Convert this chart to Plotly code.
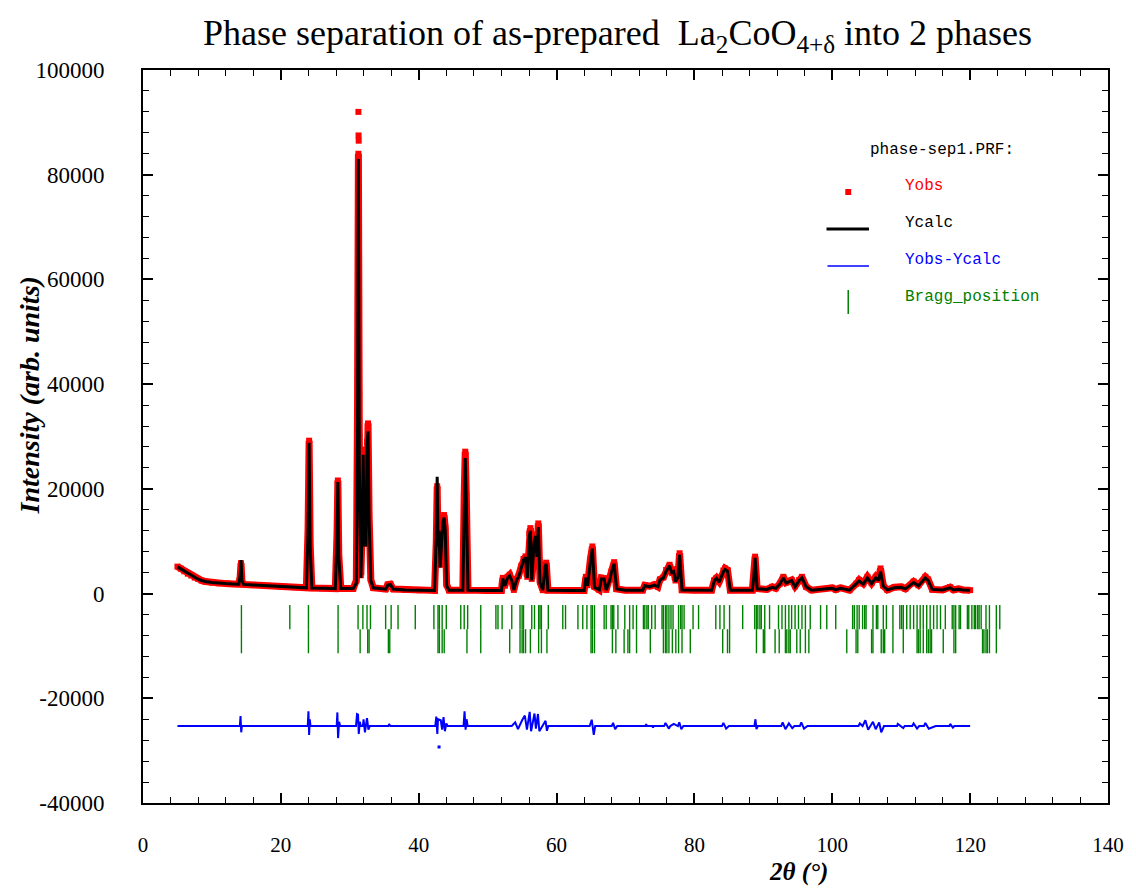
import plotly.graph_objects as go

# ---------------- data ----------------
two_theta = [5.0, 5.5, 6.0, 6.5, 7.0, 7.5, 8.0, 8.5, 9.0, 10.0, 11.0, 12.0, 13.0, 13.9, 14.1, 14.22, 14.35, 14.6,
             16.0, 18.0, 20.0, 22.0, 23.7, 23.95, 24.1, 24.25, 24.5, 26.0, 27.9, 28.15, 28.27, 28.4, 28.7, 30.5,
             30.95, 31.12, 31.25, 31.38, 31.6, 31.8, 31.95, 32.08, 32.2, 32.35, 32.5, 32.65, 32.8, 33.05, 33.4,
             35.2, 35.5, 35.9, 36.3, 38.0, 40.0, 42.3, 42.55, 42.68, 42.8, 42.95, 43.1, 43.3, 43.5, 43.68, 43.85,
             44.05, 44.4, 46.4, 46.6, 46.75, 46.9, 47.15, 50.0, 52.0, 52.2, 52.5, 52.9, 53.2, 53.5, 53.8, 54.2,
             54.5, 54.9, 55.2, 55.5, 55.75, 56.05, 56.2, 56.4, 56.75, 56.95, 57.15, 57.35, 57.6, 58.0, 58.35, 58.5,
             58.75, 62.0, 64.0, 64.25, 64.5, 64.9, 65.2, 65.5, 66.2, 66.5, 66.9, 67.2, 67.7, 67.95, 68.35, 68.7,
             70.0, 72.5, 72.8, 73.5, 74.2, 74.7, 75.0, 75.5, 75.9, 76.4, 76.7, 77.0, 77.25, 77.6, 77.85, 78.2,
             80.0, 82.5, 82.9, 83.2, 83.6, 84.2, 84.45, 84.8, 85.2, 88.4, 88.6, 88.8, 89.1, 90.5, 91.3, 91.8,
             92.4, 92.9, 93.3, 93.6, 94.1, 94.6, 95.2, 95.6, 96.2, 97.0, 100.0, 100.5, 101.2, 102.5, 103.5, 103.9,
             104.5, 105.1, 105.7, 106.3, 106.7, 107.0, 107.4, 108.0, 109.0, 110.0, 110.6, 111.8, 112.5, 113.5,
             113.9, 114.5, 116.0, 117.1, 117.6, 118.3, 119.0, 120.0]

y_calc = [5100, 4700, 4200, 3800, 3400, 3050, 2750, 2500, 2300, 2100, 1950, 1900, 1850, 1800, 3500, 6400, 2500, 1750,
          1650, 1500, 1350, 1200, 1100, 12000, 28800, 9000, 1050, 1000, 950, 11000, 21300, 7000, 950, 950,
          2000, 30000, 83000, 25000, 3000, 12000, 26500, 9000, 16000, 9000, 28000, 31000, 14000, 2500, 1100,
          850, 1600, 1700, 850, 700, 650, 600, 11000, 22300, 9000, 12000, 5000, 9000, 13500, 14500, 12000,
          1500, 650, 650, 18000, 25900, 18000, 650, 600, 600, 2900, 1500, 3000, 3400, 2500, 700, 2600,
          3200, 5000, 6400, 6900, 3000, 11000, 12000, 2500, 10000, 11000, 7000, 12700, 2000, 650, 5200, 5700,
          650, 600, 600, 3100, 1500, 6000, 8600, 1200, 700, 2800, 2800, 700, 2500, 4000, 5700, 900,
          650, 650, 1500, 1300, 1600, 1300, 2600, 3000, 4300, 5300, 4000, 4200, 2300, 3000, 7400, 700,
          650, 650, 2500, 2900, 2200, 4200, 4600, 4300, 650, 650, 3000, 6800, 900, 800, 1200, 1000,
          1800, 3000, 2000, 2200, 2500, 1300, 2500, 3000, 1300, 650, 1000, 750, 1000, 650, 1800, 2400,
          1800, 3000, 1900, 3000, 2500, 4200, 1400, 700, 1100, 1200, 900, 2100, 1500, 3000,
          2500, 800, 700, 1100, 700, 800, 700, 650]

y_obs = [5150, 4750, 4250, 3800, 3450, 3050, 2800, 2500, 2300, 2100, 1950, 1900, 1850, 1800, 3300, 5800, 2400, 1750,
         1650, 1500, 1350, 1200, 1100, 12500, 29200, 9500, 1050, 1000, 950, 11500, 21600, 7500, 950, 950,
         2500, 35000, 84000, 30000, 3500, 12000, 27500, 10000, 17000, 9500, 29000, 32500, 15000, 2700, 1100,
         850, 1700, 1800, 850, 700, 650, 600, 10000, 20500, 9500, 12500, 5500, 9500, 14000, 15000, 12500,
         1700, 650, 650, 19000, 27100, 19000, 650, 600, 600, 3000, 1500, 3200, 3600, 2600, 700, 2800,
         3400, 5300, 6600, 7100, 3200, 11500, 12500, 2800, 10500, 11300, 7300, 13400, 2200, 650, 5500, 5900,
         650, 600, 600, 3200, 1600, 6500, 9000, 1300, 700, 3000, 2900, 700, 2600, 4200, 6000, 900,
         650, 650, 1600, 1400, 1700, 1300, 2700, 3100, 4500, 5500, 4200, 4400, 2500, 3200, 7700, 700,
         650, 650, 2600, 3000, 2300, 4400, 4800, 4500, 650, 650, 3200, 7050, 950, 800, 1300, 1000,
         1900, 3200, 2100, 2300, 2600, 1400, 2600, 3200, 1300, 650, 1100, 750, 1100, 650, 1900, 2600,
         1900, 3200, 2000, 3200, 2600, 4800, 1500, 700, 1200, 1300, 900, 2300, 1600, 3200,
         2700, 800, 700, 1200, 700, 900, 700, 650]

# individual observed points on the flanks of the strongest reflection (drawn as separate dots)
obs_extra_x = [31.16, 31.19, 31.21, 31.23, 31.25, 31.27, 31.29, 31.31, 31.33, 31.36]
obs_extra_y = [30000, 45000, 62000, 81000, 92000, 87500, 86500, 68000, 52000, 38000]

diff_x = [5.0, 14.05, 14.15, 14.25, 14.35, 23.9, 24.0, 24.1, 24.2, 24.3, 28.1, 28.2, 28.3, 28.45, 28.6,
          30.9, 31.05, 31.2, 31.3, 31.45, 31.6, 31.9, 32.0, 32.2, 32.5, 32.7, 32.9, 35.6, 35.7, 35.9,
          42.4, 42.55, 42.7, 42.8, 43.2, 43.4, 43.6, 43.8, 44.0, 44.2, 46.5, 46.65, 46.8, 46.95, 47.1,
          53.5, 54.0, 54.4, 55.0, 55.4, 55.7, 56.1, 56.3, 56.8, 57.0, 57.3, 57.5, 58.0, 58.4, 58.6, 58.8,
          64.8, 65.1, 65.4, 65.6, 68.0, 68.2, 68.5, 68.8, 72.9, 73.0, 73.1, 73.9, 74.0, 74.1,
          75.6, 75.8, 76.3, 76.5, 77.0, 77.6, 77.8, 78.1, 78.4, 84.0, 84.2, 84.6, 85.0,
          88.7, 88.85, 89.0, 89.2, 92.6, 92.8, 93.2, 93.7, 94.2, 94.5, 95.3, 95.5, 95.9, 96.4,
          103.8, 104.0, 104.4, 104.8, 105.2, 105.9, 106.3, 106.8, 107.1, 107.5,
          109.4, 109.5, 110.3, 110.5, 111.6, 111.8, 112.3, 112.6, 113.3, 113.5, 114.0, 115.0,
          117.0, 117.1, 117.5, 117.7, 120.0]
diff_y = [-25300, -25300, -23400, -26500, -25300, -25300, -22500, -27000, -24000, -25300, -25300, -22700,
          -27600, -24500, -25300, -25300, -23000, -23100, -26800, -24500, -25300, -25300, -24000, -26500,
          -23800, -26000, -25300, -25300, -24900, -25300,
          -25300, -23500, -26800, -24000, -24200, -26000, -23600, -26300, -24800, -25300, -25300, -22500,
          -26000, -24000, -25300,
          -25300, -24600, -25900, -24200, -23300, -26000, -22600, -26300, -22900, -25800, -23000, -26300,
          -25300, -24300, -26200, -25300,
          -25300, -24100, -27000, -25300, -25300, -24700, -25900, -25300, -25300, -24900, -25300, -25300,
          -25600, -25300,
          -25300, -24700, -25800, -25300, -24900, -25300, -24600, -25900, -25300, -25300, -24700, -25800, -25300,
          -25300, -24000, -25900, -25300, -25300, -24600, -25900, -24800, -25700, -25300, -25300, -24600,
          -25800, -25300,
          -25300, -24800, -25300, -24200, -26000, -24500, -25900, -24600, -26500, -25300,
          -25300, -24900, -25700, -25300, -25300, -24800, -25800, -25300, -25300, -24700, -25800, -25300,
          -25300, -24900, -25600, -25300, -25300]
diff_outlier_x = [42.95]
diff_outlier_y = [-29300]

bragg_phase1 = [14.28, 21.3, 24.0, 28.3, 31.2, 31.9, 32.5, 33.0, 35.2, 36.0, 37.0, 39.5, 42.2, 42.8, 43.0, 43.4,
                44.0, 46.1, 46.6, 47.1, 49.0, 51.2, 51.5, 52.1, 53.5, 54.7, 55.0, 55.2, 56.4, 56.8, 57.4, 57.6,
                57.8, 58.8, 60.9, 61.3, 63.1, 63.8, 64.4, 65.0, 65.2, 65.5, 66.9, 67.2, 67.9, 68.1, 68.3, 68.9,
                69.9, 70.6, 71.1, 71.6, 72.6, 72.8, 73.1, 73.3, 73.8, 74.3, 75.3, 75.5, 75.8, 76.0, 76.3, 76.6,
                76.9, 77.7, 78.0, 78.2, 78.5, 79.8, 80.6, 83.1, 83.7, 84.3, 85.1, 87.0, 88.75, 89.0, 89.2, 89.5,
                89.7, 90.2, 90.9, 92.2, 92.7, 93.2, 93.7, 94.1, 94.6, 95.1, 95.6, 96.1, 96.8, 98.3, 99.2, 100.5,
                102.95, 103.2, 103.6, 103.9, 104.4, 104.7, 104.9, 105.9, 106.4, 106.6, 107.4, 107.85, 108.8,
                109.8, 110.06, 110.3, 110.8, 111.3, 111.8, 112.3, 112.75, 113.2, 113.7, 114.2, 114.7, 115.2,
                115.7, 116.4, 117.4, 117.65, 117.9, 118.4, 118.6, 119.6, 119.8, 120.25, 120.6, 120.8, 121.1,
                121.3, 121.6, 122.3, 122.8, 123.8, 124.3]
bragg_phase2 = [14.28, 24.0, 28.3, 31.5, 32.6, 32.8, 35.6, 35.8, 42.8, 43.0, 43.4, 43.7, 47.0, 49.0, 53.2, 54.7,
                55.0, 55.2, 55.5, 56.2, 57.4, 57.8, 58.6, 65.0, 65.2, 65.5, 68.1, 68.6, 69.8, 70.35, 70.6, 71.6,
                73.6, 75.5, 75.8, 76.0, 76.3, 76.8, 77.3, 77.7, 78.2, 79.4, 84.1, 84.8, 85.1, 89.0, 90.0, 90.2,
                91.7, 92.3, 93.2, 93.4, 93.7, 93.9, 94.85, 95.35, 96.1, 96.6, 102.1, 103.45, 103.7, 105.7,
                105.9, 107.1, 107.4, 107.6, 108.8, 110.3, 112.3, 112.5, 112.75, 113.2, 113.7, 113.95, 114.2,
                114.4, 116.1, 117.65, 117.9, 121.8, 122.0, 122.3, 122.5, 122.8, 123.8]

x_ticks = [0, 20, 40, 60, 80, 100, 120, 140]
y_ticks = [-40000, -20000, 0, 20000, 40000, 60000, 80000, 100000]

# ---------------- figure ----------------
GREEN = "#008000"
ROW1 = (-2200, -6800)
ROW2 = (-6800, -11400)


def tick_segments(positions, span):
    xs, ys = [], []
    for p in positions:
        xs += [p, p, None]
        ys += [span[0], span[1], None]
    return xs, ys


fig = go.Figure()

# observed (red)
fig.add_trace(go.Scatter(x=two_theta, y=y_obs, mode="lines+markers",
                         line=dict(color="#ff0000", width=7),
                         marker=dict(color="#ff0000", size=6, symbol="square"),
                         showlegend=False, hoverinfo="skip"))
fig.add_trace(go.Scatter(x=obs_extra_x, y=obs_extra_y, mode="markers",
                         marker=dict(color="#ff0000", size=6, symbol="square"),
                         showlegend=False, hoverinfo="skip"))
# calculated (black)
fig.add_trace(go.Scatter(x=two_theta, y=y_calc, mode="lines",
                         line=dict(color="#000000", width=3),
                         showlegend=False, hoverinfo="skip"))
# difference (blue)
fig.add_trace(go.Scatter(x=diff_x, y=diff_y, mode="lines",
                         line=dict(color="#0000ff", width=2),
                         showlegend=False, hoverinfo="skip"))
fig.add_trace(go.Scatter(x=diff_outlier_x, y=diff_outlier_y, mode="markers",
                         marker=dict(color="#0000ff", size=3, symbol="square"),
                         showlegend=False, hoverinfo="skip"))
# Bragg positions
bx1, by1 = tick_segments(bragg_phase1, ROW1)
bx2, by2 = tick_segments(bragg_phase2, ROW2)
fig.add_trace(go.Scatter(x=bx1, y=by1, mode="lines", line=dict(color=GREEN, width=1.4),
                         showlegend=False, hoverinfo="skip", connectgaps=False))
fig.add_trace(go.Scatter(x=bx2, y=by2, mode="lines", line=dict(color=GREEN, width=1.4),
                         showlegend=False, hoverinfo="skip", connectgaps=False))

axis_common = dict(
    showline=True, linecolor="black", linewidth=2, mirror="allticks",
    ticks="inside", ticklen=10, tickwidth=2, tickcolor="black",
    showgrid=False, zeroline=False,
)

fig.update_xaxes(range=[0, 140], tickmode="array", tickvals=x_ticks, ticktext=[str(v) for v in x_ticks],
                 ticklabelstandoff=22,
                 tickfont=dict(family="Liberation Serif", size=21, color="black"),
                 minor=dict(dtick=4, tick0=0, ticks="inside", ticklen=6, tickwidth=1, tickcolor="black"),
                 **axis_common)
fig.update_yaxes(range=[-40000, 100000], tickmode="array", tickvals=y_ticks, ticktext=[str(v) for v in y_ticks],
                 ticklabelstandoff=32,
                 tickfont=dict(family="Liberation Serif", size=23, color="black"),
                 minor=dict(dtick=4000, tick0=0, ticks="inside", ticklen=6, tickwidth=1, tickcolor="black"),
                 **axis_common)

L, R, T, B = 143, 1120, 70, 803
W, H = R - L, B - T


def px(xp):
    return (xp - L) / W


def py(yp):
    return (B - yp) / H


mono = dict(family="Liberation Mono", size=16)
annotations = [
    dict(text="Phase separation of as-prepared&nbsp;&nbsp;La<sub>2</sub>CoO<sub>4+δ</sub> into 2 phases",
         xref="paper", yref="paper", x=px(623), y=py(35), xanchor="center", yanchor="middle",
         showarrow=False, font=dict(family="Liberation Serif", size=36, color="black")),
    dict(text="<b><i>Intensity (arb. units)</i></b>", textangle=-90,
         xref="paper", yref="paper", x=px(28), y=py(395), xanchor="center", yanchor="middle",
         showarrow=False, font=dict(family="Liberation Serif", size=28, color="black")),
    dict(text="<b><i>2θ (°)</i></b>",
         xref="paper", yref="paper", x=px(807), y=py(872), xanchor="center", yanchor="middle",
         showarrow=False, font=dict(family="Liberation Serif", size=25, color="black")),
    dict(text="phase-sep1.PRF:", xref="paper", yref="paper", x=px(877), y=py(150),
         xanchor="left", yanchor="middle", showarrow=False, font=dict(color="black", **mono)),
    dict(text="Yobs", xref="paper", yref="paper", x=px(912), y=py(186),
         xanchor="left", yanchor="middle", showarrow=False, font=dict(color="#ff0000", **mono)),
    dict(text="Ycalc", xref="paper", yref="paper", x=px(912), y=py(223),
         xanchor="left", yanchor="middle", showarrow=False, font=dict(color="black", **mono)),
    dict(text="Yobs-Ycalc", xref="paper", yref="paper", x=px(912), y=py(260),
         xanchor="left", yanchor="middle", showarrow=False, font=dict(color="#0000ff", **mono)),
    dict(text="Bragg_position", xref="paper", yref="paper", x=px(912), y=py(297),
         xanchor="left", yanchor="middle", showarrow=False, font=dict(color=GREEN, **mono)),
]

shapes = [
    dict(type="rect", xref="paper", yref="paper", x0=px(854), x1=px(860), y0=py(195), y1=py(189),
         fillcolor="#ff0000", line=dict(width=0)),
    dict(type="line", xref="paper", yref="paper", x0=px(835), x1=px(878), y0=py(229), y1=py(229),
         line=dict(color="black", width=3)),
    dict(type="line", xref="paper", yref="paper", x0=px(836), x1=px(878), y0=py(266), y1=py(266),
         line=dict(color="#0000ff", width=1.5)),
    dict(type="line", xref="paper", yref="paper", x0=px(857), x1=px(857), y0=py(290), y1=py(314),
         line=dict(color=GREEN, width=1.5)),
]

fig.update_layout(
    width=1136, height=888,
    margin=dict(l=L, r=1136 - R, t=T, b=888 - B),
    paper_bgcolor="white", plot_bgcolor="white",
    showlegend=False,
    annotations=annotations, shapes=shapes,
)

fig.write_html("out.html")
